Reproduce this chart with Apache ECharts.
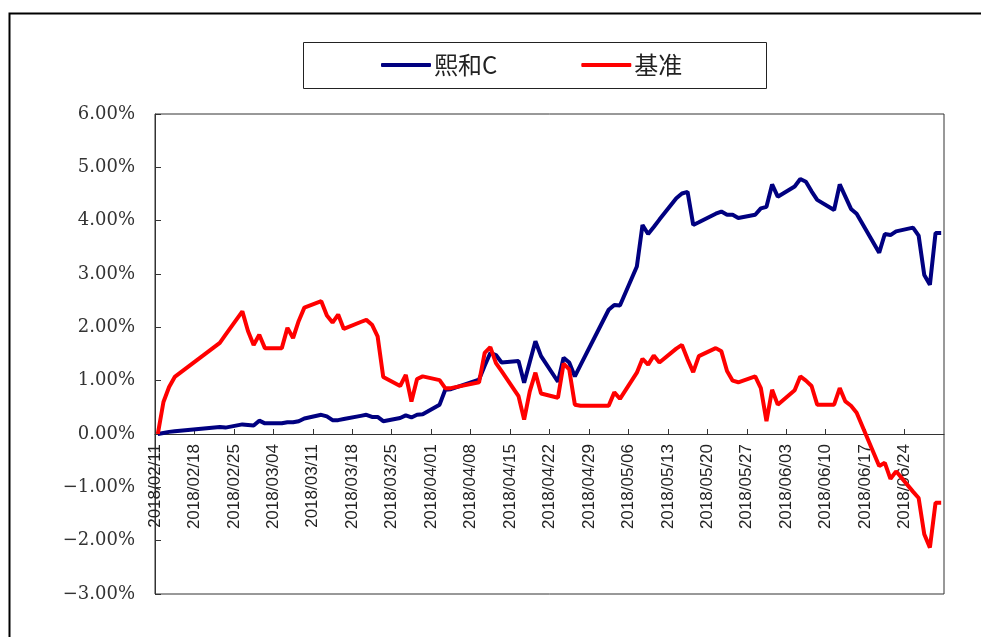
<!DOCTYPE html>
<html>
<head>
<meta charset="utf-8">
<script src="https://cdn.jsdelivr.net/npm/echarts@6/dist/echarts.min.js"></script>
<style>
    html, body { margin: 0; padding: 0; background: #fff; }
    #chart { width: 981px; height: 637px; }
</style>
</head>
<body>
<div id="chart"></div>
<script>
// 交易日（含 06/30 半年末净值）
const dates = [
    '2018-02-11','2018-02-12','2018-02-13','2018-02-14','2018-02-22','2018-02-23','2018-02-26','2018-02-27','2018-02-28',
    '2018-03-01','2018-03-02','2018-03-05','2018-03-06','2018-03-07','2018-03-08','2018-03-09','2018-03-12','2018-03-13',
    '2018-03-14','2018-03-15','2018-03-16','2018-03-19','2018-03-20','2018-03-21','2018-03-22','2018-03-23','2018-03-26',
    '2018-03-27','2018-03-28','2018-03-29','2018-03-30','2018-04-02','2018-04-03','2018-04-04','2018-04-09','2018-04-10',
    '2018-04-11','2018-04-12','2018-04-13','2018-04-16','2018-04-17','2018-04-18','2018-04-19','2018-04-20','2018-04-23',
    '2018-04-24','2018-04-25','2018-04-26','2018-04-27','2018-05-02','2018-05-03','2018-05-04','2018-05-07','2018-05-08',
    '2018-05-09','2018-05-10','2018-05-11','2018-05-14','2018-05-15','2018-05-16','2018-05-17','2018-05-18','2018-05-21',
    '2018-05-22','2018-05-23','2018-05-24','2018-05-25','2018-05-28','2018-05-29','2018-05-30','2018-05-31','2018-06-01',
    '2018-06-04','2018-06-05','2018-06-06','2018-06-07','2018-06-08','2018-06-11','2018-06-12','2018-06-13','2018-06-14',
    '2018-06-15','2018-06-19','2018-06-20','2018-06-21','2018-06-22','2018-06-25','2018-06-26','2018-06-27','2018-06-28',
    '2018-06-29','2018-06-30'
];
// 熙和C 累计收益 (%)
const fundValues = [
    0, 0.02, 0.04, 0.05, 0.13, 0.12, 0.18, 0.17, 0.16,
    0.25, 0.20, 0.20, 0.22, 0.22, 0.24, 0.29, 0.36, 0.33,
    0.26, 0.26, 0.28, 0.34, 0.36, 0.32, 0.32, 0.24, 0.30,
    0.35, 0.31, 0.36, 0.37, 0.55, 0.83, 0.84, 1.02, 1.28,
    1.52, 1.48, 1.34, 1.37, 0.96, 1.35, 1.74, 1.46, 0.98,
    1.43, 1.34, 1.08, 1.29, 2.33, 2.42, 2.41, 3.14, 3.92,
    3.75, 3.88, 4.02, 4.42, 4.51, 4.54, 3.92, 3.97, 4.13,
    4.17, 4.11, 4.11, 4.05, 4.11, 4.23, 4.26, 4.68, 4.45,
    4.64, 4.78, 4.73, 4.55, 4.39, 4.20, 4.68, 4.45, 4.22,
    4.13, 3.40, 3.75, 3.73, 3.80, 3.87, 3.72, 2.98, 2.80,
    3.77, 3.77
];
// 基准 累计收益 (%)
const benchValues = [
    0, 0.60, 0.88, 1.07, 1.71, 1.86, 2.30, 1.93, 1.67,
    1.86, 1.61, 1.61, 1.99, 1.80, 2.12, 2.37, 2.49, 2.22,
    2.09, 2.24, 1.97, 2.10, 2.14, 2.05, 1.83, 1.07, 0.90,
    1.11, 0.61, 1.03, 1.08, 1.01, 0.86, 0.86, 0.97, 1.52,
    1.63, 1.33, 1.18, 0.71, 0.27, 0.80, 1.15, 0.76, 0.68,
    1.32, 1.21, 0.55, 0.53, 0.53, 0.78, 0.66, 1.15, 1.41,
    1.30, 1.47, 1.34, 1.60, 1.67, 1.40, 1.16, 1.46, 1.61,
    1.55, 1.18, 1.00, 0.97, 1.08, 0.86, 0.24, 0.83, 0.55,
    0.82, 1.08, 1.00, 0.90, 0.55, 0.55, 0.86, 0.61, 0.53,
    0.40, -0.60, -0.54, -0.84, -0.70, -1.08, -1.20, -1.88, -2.13,
    -1.29, -1.29
];
const xTickLabels = [
    '2018/02/11','2018/02/18','2018/02/25','2018/03/04','2018/03/11','2018/03/18','2018/03/25',
    '2018/04/01','2018/04/08','2018/04/15','2018/04/22','2018/04/29','2018/05/06','2018/05/13',
    '2018/05/20','2018/05/27','2018/06/03','2018/06/10','2018/06/17','2018/06/24'
];
const seriesNames = ['熙和C', '基准'];

const DAY = 86400000;
const start = Date.UTC(2018, 1, 11);
function dayOf(s) {
    const p = s.split('-').map(Number);
    return Math.round((Date.UTC(p[0], p[1] - 1, p[2]) - start) / DAY);
}
// Excel 日期轴：点落在当天格子中间
const toPoints = vals => dates.map((d, i) => [dayOf(d) + 0.5, vals[i]]);

const Y_MIN = -3, Y_MAX = 6;
const GRID = { left: 155, right: 37, top: 114, bottom: 43 };
const plotH = 637 - GRID.top - GRID.bottom;
// x 轴整体（线、刻度、标签）放到 0% 处
const zeroOffset = -plotH * (0 - Y_MIN) / (Y_MAX - Y_MIN);

const chart = echarts.init(document.getElementById('chart'));
chart.setOption({
    backgroundColor: '#fff',
    animation: false,
    graphic: [{
        type: 'rect', left: 7, top: 11, silent: true,
        shape: { width: 1000, height: 700 },
        style: { fill: 'none', stroke: '#000', lineWidth: 2 }
    }, {
        type: 'rect', left: 303, top: 42, silent: true,
        shape: { width: 463, height: 46 },
        style: { fill: '#fff', stroke: '#222', lineWidth: 1 }
    }],
    legend: {
        left: 381, top: 53, padding: 0, itemGap: 84,
        itemWidth: 50, itemHeight: 4, icon: 'roundRect',
        textStyle: { fontFamily: '"Noto Sans CJK SC", sans-serif', fontSize: 24, color: '#222', padding: [0, 0, 0, -2] },
        data: seriesNames
    },
    grid: Object.assign({ show: true, borderColor: '#333', borderWidth: 1, outerBoundsMode: 'none' }, GRID),
    xAxis: {
        type: 'value', min: 0, max: 140, interval: 7,
        offset: zeroOffset,
        axisLine: { onZero: false, lineStyle: { color: '#333', width: 1 } },
        axisTick: { inside: true, length: 5, lineStyle: { color: '#333' } },
        splitLine: { show: false },
        axisLabel: {
            rotate: 90, margin: 10, showMaxLabel: false, showMinLabel: true,
            color: '#222', fontSize: 17,
            fontFamily: '"Liberation Sans Narrow", "Liberation Sans", sans-serif',
            formatter: v => xTickLabels[Math.round(v / 7)] || ''
        }
    },
    yAxis: {
        type: 'value', min: Y_MIN, max: Y_MAX, interval: 1,
        axisLine: { show: true, lineStyle: { color: '#333', width: 1 } },
        axisTick: { show: true, inside: true, length: 6, lineStyle: { color: '#333' } },
        splitLine: { show: false },
        axisLabel: {
            margin: 20, color: '#333', fontSize: 18, fontFamily: '"DejaVu Serif", serif',
            formatter: v => (v < 0 ? '\u2212' : '') + Math.abs(v).toFixed(2) + '%'
        }
    },
    series: [
        { name: seriesNames[0], type: 'line', data: toPoints(fundValues), symbol: 'none',
          itemStyle: { color: '#000080' }, lineStyle: { color: '#000080', width: 4 }, z: 3 },
        { name: seriesNames[1], type: 'line', data: toPoints(benchValues), symbol: 'none',
          itemStyle: { color: '#ff0000' }, lineStyle: { color: '#ff0000', width: 4 }, z: 4 }
    ]
});
</script>
</body>
</html>
